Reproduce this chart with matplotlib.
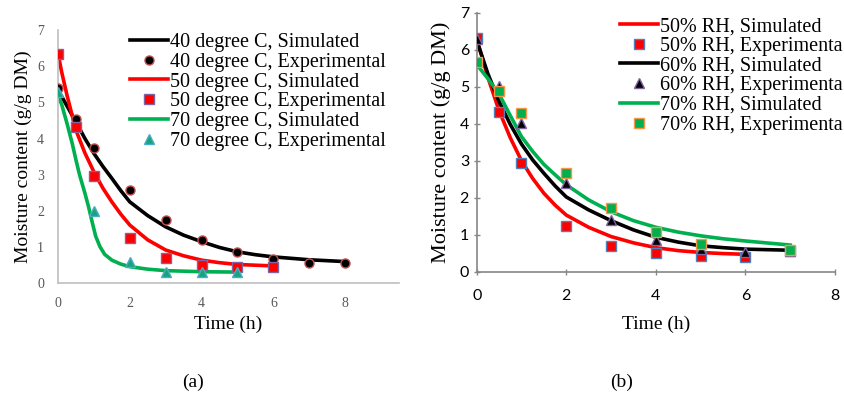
import matplotlib
matplotlib.use("Agg")
import matplotlib.pyplot as plt

# ── (a) temperature series ────────────────────────────────────────────────
t_exp_40 = [0, 0.5, 1, 2, 3, 4, 5, 6, 7, 8]
m_exp_40 = [5.39, 4.54, 3.73, 2.58, 1.75, 1.20, 0.87, 0.67, 0.55, 0.55]
t_exp_50 = [0, 0.5, 1, 2, 3, 4, 5, 6]
m_exp_50 = [6.33, 4.33, 2.97, 1.26, 0.71, 0.51, 0.44, 0.44]
t_exp_70 = [0, 1, 2, 3, 4, 5]
m_exp_70 = [5.29, 2.00, 0.60, 0.32, 0.30, 0.30]

t_sim_40 = [0, 0.25, 0.5, 0.75, 1, 1.25, 1.5, 1.75, 2, 2.5, 3, 3.5, 4, 4.5, 5, 5.5, 6, 7, 8]
m_sim_40 = [5.35, 4.90, 4.46, 4.00, 3.59, 3.23, 2.90, 2.56, 2.25, 1.87, 1.56, 1.33, 1.15,
            0.99, 0.87, 0.79, 0.73, 0.65, 0.60]
t_sim_50 = [0, 0.1, 0.25, 0.5, 0.75, 1, 1.25, 1.5, 1.75, 2, 2.5, 3, 3.5, 4, 4.5, 5, 5.5, 6]
m_sim_50 = [6.35, 5.85, 5.20, 4.23, 3.60, 3.08, 2.63, 2.25, 1.91, 1.61, 1.20, 0.92, 0.76,
            0.64, 0.57, 0.52, 0.50, 0.48]
t_sim_70 = [0, 0.1, 0.25, 0.4, 0.5, 0.6, 0.75, 0.85, 0.95, 1.05, 1.17, 1.3, 1.5, 1.75, 2,
            2.5, 3, 4, 5]
m_sim_70 = [5.20, 4.95, 4.42, 3.85, 3.41, 3.00, 2.49, 2.12, 1.70, 1.30, 1.01, 0.80, 0.64,
            0.53, 0.46, 0.39, 0.35, 0.32, 0.31]

# ── (b) relative humidity series ──────────────────────────────────────────
t_exp_rh = [0, 0.5, 1, 2, 3, 4, 5, 6, 7]
m_exp_rh50 = [6.31, 4.32, 2.95, 1.24, 0.69, 0.50, 0.42, 0.41, 0.55]
m_exp_rh60 = [6.28, 5.03, 4.01, 2.41, 1.40, 0.86, 0.62, 0.54, 0.55]
t_exp_rh70 = [0, 0.5, 1, 2, 3, 4, 5, 7]
m_exp_rh70 = [5.66, 4.89, 4.28, 2.68, 1.71, 1.08, 0.74, 0.59]

t_sim_rh50 = [0, 0.25, 0.5, 0.75, 1, 1.25, 1.5, 1.75, 2, 2.5, 3, 3.5, 4, 4.5, 5, 5.5, 6]
m_sim_rh50 = [6.30, 5.25, 4.35, 3.62, 3.00, 2.52, 2.12, 1.80, 1.53, 1.20, 0.95, 0.78, 0.65,
              0.57, 0.52, 0.49, 0.47]
t_sim_rh = [0, 0.25, 0.5, 0.75, 1, 1.25, 1.5, 1.75, 2, 2.5, 3, 3.5, 4, 4.5, 5, 5.5, 6, 7]
m_sim_rh60 = [6.25, 5.35, 4.60, 3.98, 3.45, 3.02, 2.66, 2.32, 2.02, 1.67, 1.38, 1.13, 0.93,
              0.80, 0.70, 0.65, 0.61, 0.58]
m_sim_rh70 = [5.60, 5.22, 4.80, 4.22, 3.65, 3.25, 2.90, 2.62, 2.35, 1.94, 1.62, 1.38, 1.20,
              1.07, 0.97, 0.89, 0.83, 0.72]

SERIF = "Liberation Serif"
SANS = "Lato"
GREEN = "#00B050"

fig = plt.figure(figsize=(8.44, 3.96), dpi=100)

# ── panel (a) ─────────────────────────────────────────────────────────────
ax1 = fig.add_axes([58 / 844, 1 - 283.3 / 396, 341 / 844, 253.3 / 396])
ax1.plot(t_sim_40, m_sim_40, color="black", lw=2.6, label="40 degree C, Simulated", zorder=2)
ax1.plot(t_exp_40, m_exp_40, ls="none", marker="o", ms=6.5, mfc="black", mec="#C0504D",
         mew=1, label="40 degree C, Experimental", zorder=3)
ax1.plot(t_sim_50, m_sim_50, color="red", lw=2.6, label="50 degree C, Simulated", zorder=2)
ax1.plot(t_exp_50, m_exp_50, ls="none", marker="s", ms=6.5, mfc="red", mec="#8064A2",
         mew=1, label="50 degree C, Experimental", zorder=3)
ax1.plot(t_sim_70, m_sim_70, color=GREEN, lw=2.6, label="70 degree C, Simulated", zorder=2)
ax1.plot(t_exp_70, m_exp_70, ls="none", marker="^", ms=7, mfc="#1AA37A", mec="#4BACC6",
         mew=1, label="70 degree C, Experimental", zorder=3)

ax1.set_xlim(0, 9.5)
ax1.set_ylim(0, 7)
ax1.set_xticks([0, 2, 4, 6, 8])
ax1.set_yticks(range(0, 8))
for s in ["top", "right"]:
    ax1.spines[s].set_visible(False)
for s in ["left", "bottom"]:
    ax1.spines[s].set_color("#BFBFBF")
    ax1.spines[s].set_linewidth(1.2)
ax1.tick_params(length=0, labelsize=10, labelcolor="#595959", pad=10)
for lab in ax1.get_xticklabels() + ax1.get_yticklabels():
    lab.set_fontfamily(SERIF)
ax1.set_xlabel("Time (h)", fontfamily=SERIF, fontsize=14, labelpad=4)
ax1.set_ylabel("Moisture content (g/g DM)", fontfamily=SERIF, fontsize=14, labelpad=4)
ax1.legend(loc="upper left", bbox_to_anchor=(130 / 844, 1 - 33 / 396), bbox_transform=fig.transFigure,
           frameon=False, prop={"family": SERIF, "size": 14.5}, handlelength=1.9, handletextpad=0.1,
           labelspacing=0.03, borderpad=0, borderaxespad=0)

# ── panel (b) ─────────────────────────────────────────────────────────────
# the source figure cuts the "Experimental" labels at its right edge
ax2 = fig.add_axes([476.7 / 844, 1 - 271.7 / 396, 358.3 / 844, 259 / 396])
ax2.plot(t_sim_rh50, m_sim_rh50, color="red", lw=2.6, label="50% RH, Simulated", zorder=2)
ax2.plot(t_exp_rh, m_exp_rh50, ls="none", marker="s", ms=6.5, mfc="red", mec="#4F81BD",
         mew=1, label="50% RH, Experimenta", zorder=3)
ax2.plot(t_sim_rh, m_sim_rh60, color="black", lw=2.6, label="60% RH, Simulated", zorder=2)
ax2.plot(t_exp_rh, m_exp_rh60, ls="none", marker="^", ms=6.5, mfc="black", mec="#8064A2",
         mew=1, label="60% RH, Experimenta", zorder=3)
ax2.plot(t_sim_rh, m_sim_rh70, color=GREEN, lw=2.6, label="70% RH, Simulated", zorder=2)
ax2.plot(t_exp_rh70, m_exp_rh70, ls="none", marker="s", ms=6.5, mfc=GREEN, mec="#F79646",
         mew=1, label="70% RH, Experimenta", zorder=3)

ax2.set_xlim(0, 8)
ax2.set_ylim(0, 7)
ax2.set_xticks([0, 2, 4, 6, 8])
ax2.set_yticks(range(0, 8))
for s in ["top", "right"]:
    ax2.spines[s].set_visible(False)
for s in ["left", "bottom"]:
    ax2.spines[s].set_color("#868686")
    ax2.spines[s].set_linewidth(1.2)
ax2.tick_params(direction="inout", length=5, width=1, color="#868686", labelsize=11.5,
                labelcolor="black")
ax2.tick_params(axis="x", pad=10)
ax2.tick_params(axis="y", pad=3)
for lab in ax2.get_xticklabels() + ax2.get_yticklabels():
    lab.set_fontfamily(SANS)
ax2.set_xlabel("Time (h)", fontfamily=SERIF, fontsize=14, labelpad=9)
ax2.set_ylabel("Moisture content (g/g DM)", fontfamily=SERIF, fontsize=16, labelpad=6)
ax2.legend(loc="upper left", bbox_to_anchor=(620 / 844, 1 - 17 / 396), bbox_transform=fig.transFigure,
           frameon=False, prop={"family": SERIF, "size": 14.5}, handlelength=1.9, handletextpad=0.1,
           labelspacing=0.03, borderpad=0, borderaxespad=0)

fig.text(193 / 844, 1 - 382 / 396, "(a)", fontfamily=SERIF, fontsize=14, ha="center", va="center")
fig.text(622 / 844, 1 - 382 / 396, "(b)", fontfamily=SERIF, fontsize=14, ha="center", va="center")

fig.savefig("out.png", dpi=100)
